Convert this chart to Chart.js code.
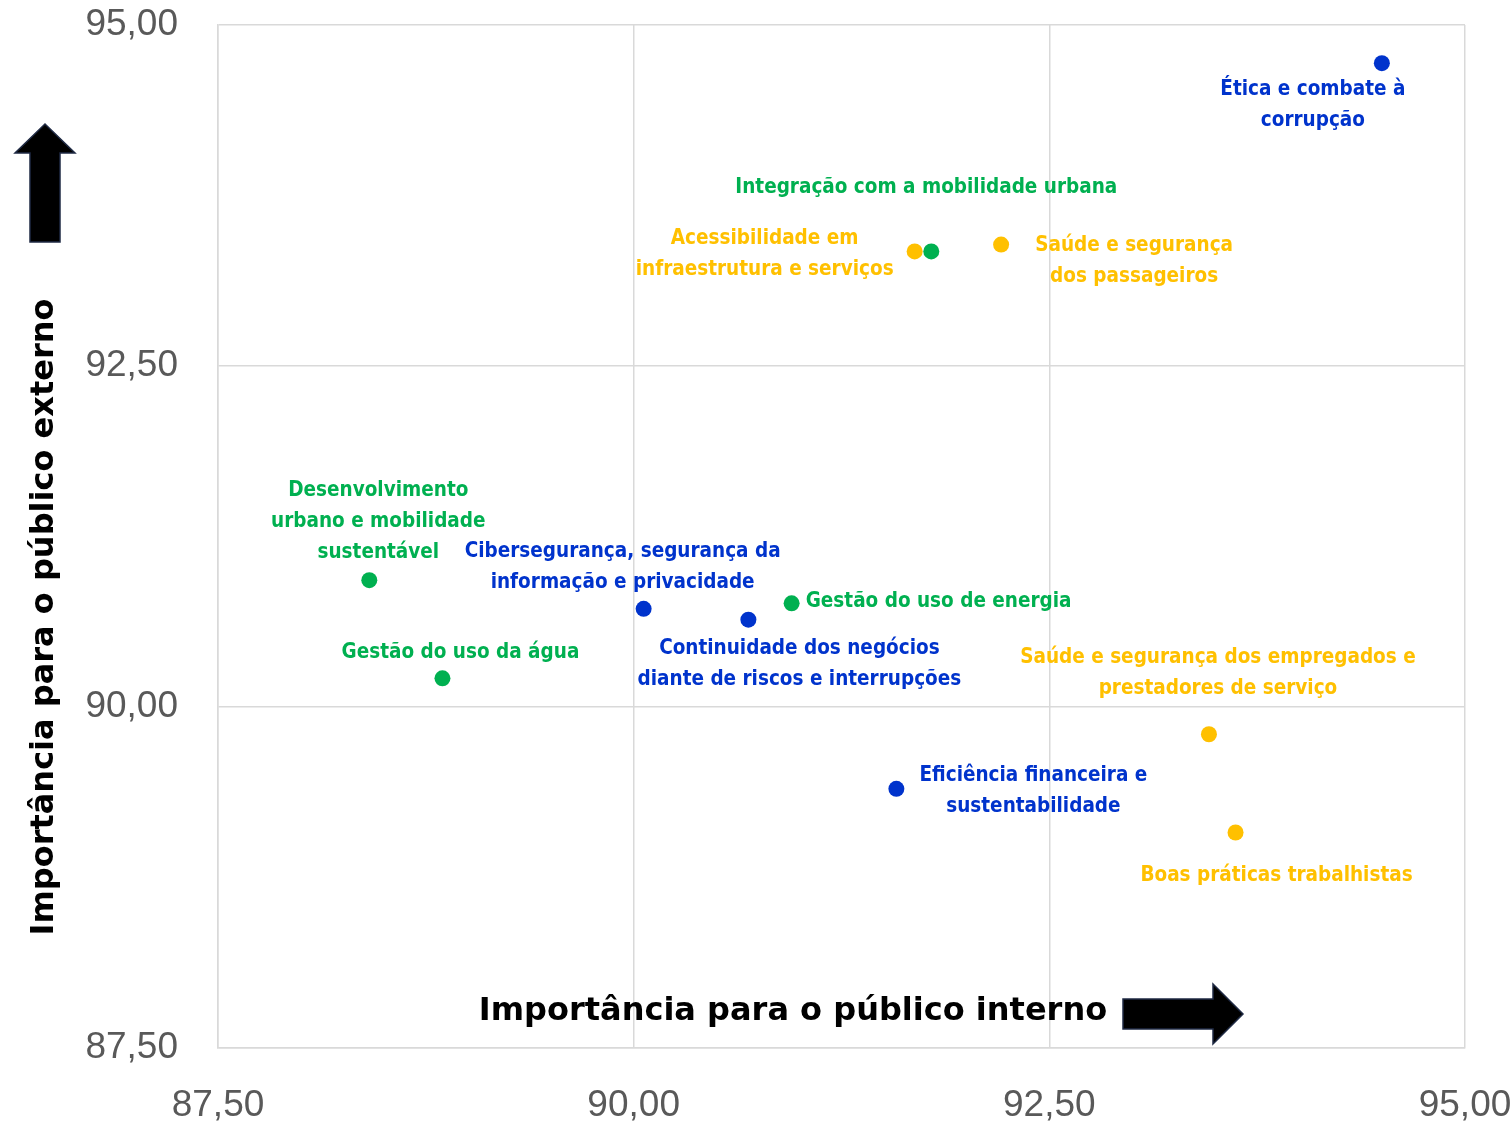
<!DOCTYPE html>
<html lang="pt-BR">
<head>
<meta charset="UTF-8">
<title>Matriz de materialidade</title>
<script src="https://cdn.jsdelivr.net/npm/chart.js"></script>
<style>
  html, body { margin: 0; padding: 0; background: #fff; }
  #wrap { width: 1512px; height: 1125px; }
</style>
</head>
<body>
<div id="wrap"><canvas id="chart"></canvas></div>
<script>
// temas materiais (texto com quebra de linha como no original)
const temas = [
  'Ética e combate à\ncorrupção',
  'Integração com a mobilidade urbana',
  'Acessibilidade em\ninfraestrutura e serviços',
  'Saúde e segurança\ndos passageiros',
  'Desenvolvimento\nurbano e mobilidade\nsustentável',
  'Cibersegurança, segurança da\ninformação e privacidade',
  'Gestão do uso de energia',
  'Gestão do uso da água',
  'Continuidade dos negócios\ndiante de riscos e interrupções',
  'Saúde e segurança dos empregados e\nprestadores de serviço',
  'Eficiência financeira e\nsustentabilidade',
  'Boas práticas trabalhistas'
];
const publicoInterno = [94.50, 91.79, 91.69, 92.21, 88.41, 90.06, 90.95, 88.85, 90.69, 93.46, 91.58, 93.62];
const publicoExterno = [94.72, 93.34, 93.34, 93.39, 90.93, 90.72, 90.76, 90.21, 90.64, 89.80, 89.40, 89.08];
const grupo = ['gov', 'amb', 'soc', 'soc', 'amb', 'gov', 'amb', 'amb', 'gov', 'soc', 'gov', 'soc'];
const ticks = [87.5, 90, 92.5, 95];

const cores = { gov: '#0033CC', soc: '#FFC000', amb: '#00B050' };

// deslocamento do rótulo em relação ao ponto (px): centro da 1a linha
const rotulos = [
  { dx: -69, dy: 24 },
  { dx: -5, dy: -66 },
  { dx: -150, dy: -15 },
  { dx: 133, dy: -1 },
  { dx: 9, dy: -91 },
  { dx: -21, dy: -59 },
  { dx: 147, dy: -4 },
  { dx: 18, dy: -28 },
  { dx: 51, dy: 27 },
  { dx: 9, dy: -79 },
  { dx: 137, dy: -15 },
  { dx: 41, dy: 41 }
];

const fmt = v => v.toFixed(2).replace('.', ',');

const datasets = ['gov', 'soc', 'amb'].map(g => ({
  label: g,
  data: temas.map((t, i) => ({ x: publicoInterno[i], y: publicoExterno[i], i }))
             .filter(p => grupo[p.i] === g),
  backgroundColor: cores[g],
  borderWidth: 0,
  pointRadius: 8,
  pointHoverRadius: 8
}));

// rótulos de cada tema
const rotuloPlugin = {
  id: 'rotulos',
  afterDatasetsDraw(chart) {
    const ctx = chart.ctx;
    ctx.save();
    ctx.font = 'bold 20.5px "DejaVu Sans Condensed", Roboto, sans-serif';
    ctx.textAlign = 'center';
    ctx.textBaseline = 'middle';
    chart.data.datasets.forEach((ds, di) => {
      chart.getDatasetMeta(di).data.forEach((el, k) => {
        const i = ds.data[k].i;
        const o = rotulos[i];
        ctx.fillStyle = cores[grupo[i]];
        temas[i].split('\n').forEach((linha, n) => {
          ctx.fillText(linha, el.x + o.dx, el.y + o.dy + 2 + n * 31);
        });
      });
    });
    ctx.restore();
  }
};

// títulos dos eixos e setas
const eixosPlugin = {
  id: 'eixos',
  afterDraw(chart) {
    const ctx = chart.ctx;
    const a = chart.chartArea;
    ctx.save();
    ctx.fillStyle = '#000';
    ctx.font = 'bold 32px "DejaVu Sans", Verdana, sans-serif';
    ctx.textAlign = 'center';
    ctx.textBaseline = 'middle';
    ctx.fillText('Importância para o público interno', a.left + 575, a.bottom - 36);
    ctx.save();
    ctx.translate(45, a.top + 592);
    ctx.rotate(-Math.PI / 2);
    ctx.fillText('Importância para o público externo', 0, 0);
    ctx.restore();

    ctx.strokeStyle = '#1f2a44';
    ctx.lineWidth = 1.5;
    // seta para cima
    ctx.beginPath();
    ctx.moveTo(30, 242); ctx.lineTo(30, 153); ctx.lineTo(15, 153);
    ctx.lineTo(45, 124); ctx.lineTo(75, 153); ctx.lineTo(60, 153);
    ctx.lineTo(60, 242); ctx.closePath();
    ctx.fill(); ctx.stroke();
    // seta para a direita
    const y0 = a.bottom - 34;
    ctx.beginPath();
    ctx.moveTo(1123, y0 - 15); ctx.lineTo(1213, y0 - 15); ctx.lineTo(1213, y0 - 30);
    ctx.lineTo(1243, y0); ctx.lineTo(1213, y0 + 30); ctx.lineTo(1213, y0 + 15);
    ctx.lineTo(1123, y0 + 15); ctx.closePath();
    ctx.fill(); ctx.stroke();
    ctx.restore();
  }
};

const escala = (pad) => ({
  type: 'linear',
  min: 87.5,
  max: 95,
  afterBuildTicks: s => { s.ticks = ticks.map(v => ({ value: v })); },
  ticks: {
    callback: v => fmt(v),
    color: '#595959',
    font: { family: '"Liberation Sans", Arial, sans-serif', size: 37 },
    padding: pad
  },
  grid: { color: '#d9d9d9', lineWidth: 1.5, drawTicks: false },
  border: { color: '#d9d9d9', width: 1.5 }
});

const semPadding = s => { s.paddingTop = 0; s.paddingBottom = 0; s.paddingLeft = 0; s.paddingRight = 0; };
const xScale = escala(36);
xScale.afterFit = s => { s.height = 77; semPadding(s); };
const yScale = escala(40);
yScale.afterFit = s => { s.width = 218; semPadding(s); };

new Chart(document.getElementById('chart'), {
  type: 'scatter',
  data: { datasets },
  options: {
    responsive: true,
    maintainAspectRatio: false,
    animation: false,
    layout: { padding: { top: 25, right: 47, left: 0, bottom: 0 } },
    plugins: { legend: { display: false }, tooltip: { enabled: false } },
    scales: { x: xScale, y: yScale }
  },
  plugins: [rotuloPlugin, eixosPlugin]
});
</script>
</body>
</html>
